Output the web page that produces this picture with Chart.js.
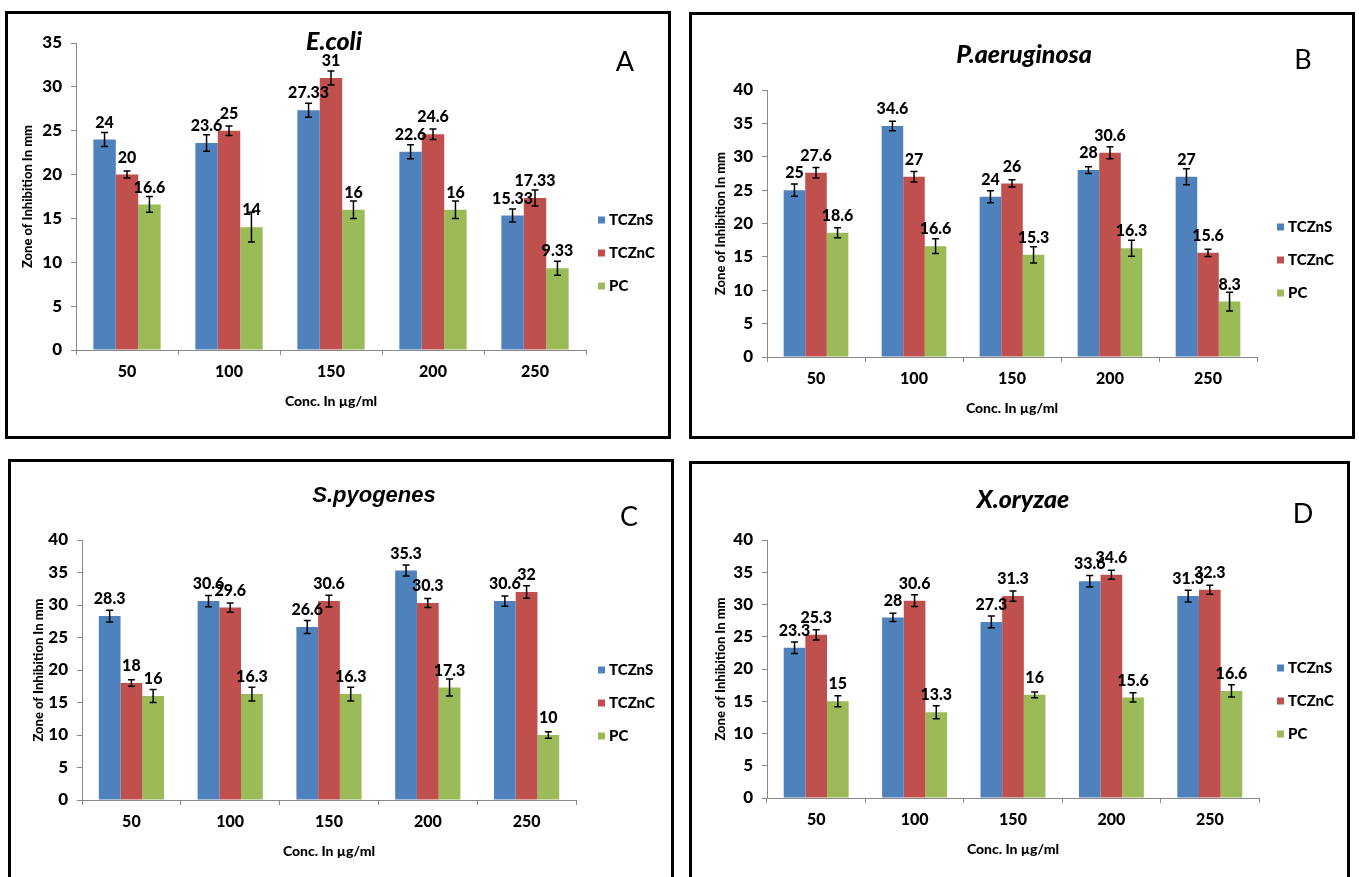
<!DOCTYPE html>
<html>
<head>
<meta charset="utf-8">
<title>Zone of inhibition</title>
<script src="https://cdn.jsdelivr.net/npm/chart.js@4.4.1/dist/chart.umd.min.js"></script>
<style>
  html, body { margin: 0; padding: 0; background: #fff; overflow: hidden; }
  body { width: 1359px; height: 877px; position: relative; font-family: Lato, sans-serif; }
  canvas { position: absolute; }
  .box { position: absolute; border: 3px solid #000; box-sizing: border-box; pointer-events: none; }
  .title { position: absolute; transform: translate(-50%, -50%); line-height: 1; font-weight: 900; font-style: italic; white-space: nowrap; color: #000; }
  .tag { position: absolute; transform: translate(-50%, -50%); line-height: 1; font-size: 27px; color: #000; }
</style>
</head>
<body>

<div class="box" style="left:5px;top:11px;width:666px;height:428px;"></div>
<div class="box" style="left:689px;top:12px;width:666px;height:427px;"></div>
<div class="box" style="left:8px;top:459px;width:666px;height:430px;"></div>
<div class="box" style="left:689px;top:461px;width:661px;height:430px;"></div>

<canvas id="chartA" width="680" height="448" style="left:0;top:0;"></canvas>
<canvas id="chartB" width="679" height="448" style="left:680px;top:0;"></canvas>
<canvas id="chartC" width="680" height="448" style="left:0;top:450px;"></canvas>
<canvas id="chartD" width="679" height="448" style="left:680px;top:450px;"></canvas>

<div class="title" style="left:334px;top:40px;font-size:25px;">E.coli</div>
<div class="title" style="left:1024px;top:53px;font-size:25px;">P.aeruginosa</div>
<div class="title" style="left:374px;top:495px;font-size:22px;font-weight:bold;font-family:'Liberation Sans',Arial,sans-serif;">S.pyogenes</div>
<div class="title" style="left:1023px;top:498px;font-size:25px;">X.oryzae</div>

<div class="tag" style="left:625px;top:60px;">A</div>
<div class="tag" style="left:1303px;top:58px;">B</div>
<div class="tag" style="left:629px;top:515px;">C</div>
<div class="tag" style="left:1303px;top:512px;">D</div>

<script>
/* Zone of inhibition, four organisms */

const concLabels = ["50", "100", "150", "200", "250"];
const seriesNames = ["TCZnS", "TCZnC", "PC"];
const seriesColors = ["#4F81BD", "#C0504D", "#9BBB59"];

// E.coli
const ecoliZnS = [24, 23.6, 27.33, 22.6, 15.33];
const ecoliZnC = [20, 25, 31, 24.6, 17.33];
const ecoliPC = [16.6, 14, 16, 16, 9.33];
const ecoliZnSErr = [0.8, 0.95, 0.8, 0.8, 0.75];
const ecoliZnCErr = [0.4, 0.55, 0.8, 0.6, 0.9];
const ecoliPCErr = [0.9, 1.7, 1.0, 1.0, 0.8];

// P.aeruginosa
const paerZnS = [25, 34.6, 24, 28, 27];
const paerZnC = [27.6, 27, 26, 30.6, 15.6];
const paerPC = [18.6, 16.6, 15.3, 16.3, 8.3];
const paerZnSErr = [0.9, 0.7, 0.9, 0.5, 1.2];
const paerZnCErr = [0.8, 0.8, 0.55, 0.9, 0.55];
const paerPCErr = [0.75, 1.1, 1.2, 1.2, 1.4];

// S.pyogenes
const spyoZnS = [28.3, 30.6, 26.6, 35.3, 30.6];
const spyoZnC = [18, 29.6, 30.6, 30.3, 32];
const spyoPC = [16, 16.3, 16.3, 17.3, 10];
const spyoZnSErr = [0.9, 0.85, 1.0, 0.85, 0.8];
const spyoZnCErr = [0.5, 0.7, 0.9, 0.7, 0.95];
const spyoPCErr = [1.0, 1.05, 1.05, 1.3, 0.5];

// X.oryzae
const xoryZnS = [23.3, 28, 27.3, 33.6, 31.3];
const xoryZnC = [25.3, 30.6, 31.3, 34.6, 32.3];
const xoryPC = [15, 13.3, 16, 15.6, 16.6];
const xoryZnSErr = [0.9, 0.65, 0.9, 0.9, 0.9];
const xoryZnCErr = [0.8, 0.9, 0.8, 0.7, 0.7];
const xoryPCErr = [0.85, 1.0, 0.45, 0.7, 0.95];

const yTicksA = { max: 35, step: 5 };
const yTicksOther = { max: 40, step: 5 };

Chart.defaults.font.family = "Lato, 'Open Sans', sans-serif";
Chart.defaults.color = "#000";

/* error bars + value labels */
const errorBarPlugin = {
    id: "errorBars",
    afterDatasetsDraw(chart) {
        const ctx = chart.ctx;
        const yScale = chart.scales.y;
        ctx.save();
        chart.data.datasets.forEach((ds, i) => {
            const meta = chart.getDatasetMeta(i);
            meta.data.forEach((bar, j) => {
                const v = ds.data[j];
                const e = ds.errors[j];
                const yHi = yScale.getPixelForValue(v + e);
                const yLo = yScale.getPixelForValue(v - e);
                ctx.strokeStyle = "#000";
                ctx.lineWidth = 1.5;
                ctx.beginPath();
                ctx.moveTo(bar.x, yHi);
                ctx.lineTo(bar.x, yLo);
                ctx.moveTo(bar.x - 3.5, yHi);
                ctx.lineTo(bar.x + 3.5, yHi);
                ctx.moveTo(bar.x - 3.5, yLo);
                ctx.lineTo(bar.x + 3.5, yLo);
                ctx.stroke();

                ctx.fillStyle = "#000";
                ctx.font = "900 16px Lato";
                ctx.textAlign = "center";
                ctx.textBaseline = "middle";
                ctx.fillText(String(v), bar.x, bar.y - 17);
            });
        });
        ctx.restore();
    }
};

/* legend to the right of the plot */
const sideLegendPlugin = {
    id: "sideLegend",
    afterDraw(chart) {
        const ctx = chart.ctx;
        const area = chart.chartArea;
        const x = chart.width - 82;
        ctx.save();
        ctx.font = "900 15px Lato";
        ctx.textBaseline = "middle";
        ctx.textAlign = "left";
        chart.data.datasets.forEach((ds, i) => {
            const y = area.bottom - 130 + i * 33;
            ctx.fillStyle = ds.backgroundColor;
            ctx.fillRect(x, y - 3.5, 7, 7);
            ctx.fillStyle = "#000";
            ctx.fillText(ds.label, x + 11, y);
        });
        ctx.restore();
    }
};

function makeChart(id, values, errors, yTicks, pad, yTitlePad) {
    const canvas = document.getElementById(id);
    return new Chart(canvas, {
        type: "bar",
        data: {
            labels: concLabels,
            datasets: seriesNames.map((name, i) => ({
                label: name,
                data: values[i],
                errors: errors[i],
                backgroundColor: seriesColors[i],
                borderWidth: 0,
                categoryPercentage: 0.66,
                barPercentage: 1.0
            }))
        },
        options: {
            responsive: false,
            animation: false,
            layout: { padding: pad },
            plugins: {
                legend: { display: false },
                tooltip: { enabled: false },
                title: { display: false }
            },
            scales: {
                x: {
                    afterFit: (s) => { s.height = 80; },
                    grid: { drawOnChartArea: false, drawTicks: true, tickLength: 5, color: "#888", offset: true },
                    border: { color: "#888", width: 1 },
                    ticks: { padding: 7, font: { size: 16, weight: "900" }, color: "#000" },
                    title: {
                        display: true,
                        text: "Conc. In µg/ml",
                        font: { size: 14, weight: "900" },
                        color: "#000",
                        padding: { top: 0, bottom: 20 }
                    }
                },
                y: {
                    min: 0,
                    max: yTicks.max,
                    afterFit: (s) => { s.width = 66; },
                    grid: { drawOnChartArea: false, drawTicks: true, tickLength: 5, color: "#888" },
                    border: { color: "#888", width: 1 },
                    ticks: { stepSize: yTicks.step, padding: 9, font: { size: 17, weight: "900" }, color: "#000" },
                    title: {
                        display: true,
                        text: "Zone of Inhibition In mm",
                        font: { size: 13, weight: "900" },
                        color: "#000",
                        padding: { top: yTitlePad, bottom: 0 }
                    }
                }
            }
        },
        plugins: [errorBarPlugin, sideLegendPlugin]
    });
}

makeChart("chartA",
    [ecoliZnS, ecoliZnC, ecoliPC],
    [ecoliZnSErr, ecoliZnCErr, ecoliPCErr],
    yTicksA, { left: 10, right: 94, top: 43, bottom: 18 }, 10);

makeChart("chartB",
    [paerZnS, paerZnC, paerPC],
    [paerZnSErr, paerZnCErr, paerPCErr],
    yTicksOther, { left: 21, right: 102, top: 90, bottom: 11 }, 12);

makeChart("chartC",
    [spyoZnS, spyoZnC, spyoPC],
    [spyoZnSErr, spyoZnCErr, spyoPCErr],
    yTicksOther, { left: 16, right: 104, top: 90, bottom: 18 }, 15);

makeChart("chartD",
    [xoryZnS, xoryZnC, xoryPC],
    [xoryZnSErr, xoryZnCErr, xoryPCErr],
    yTicksOther, { left: 21, right: 100, top: 90, bottom: 20 }, 12);
</script>
</body>
</html>
